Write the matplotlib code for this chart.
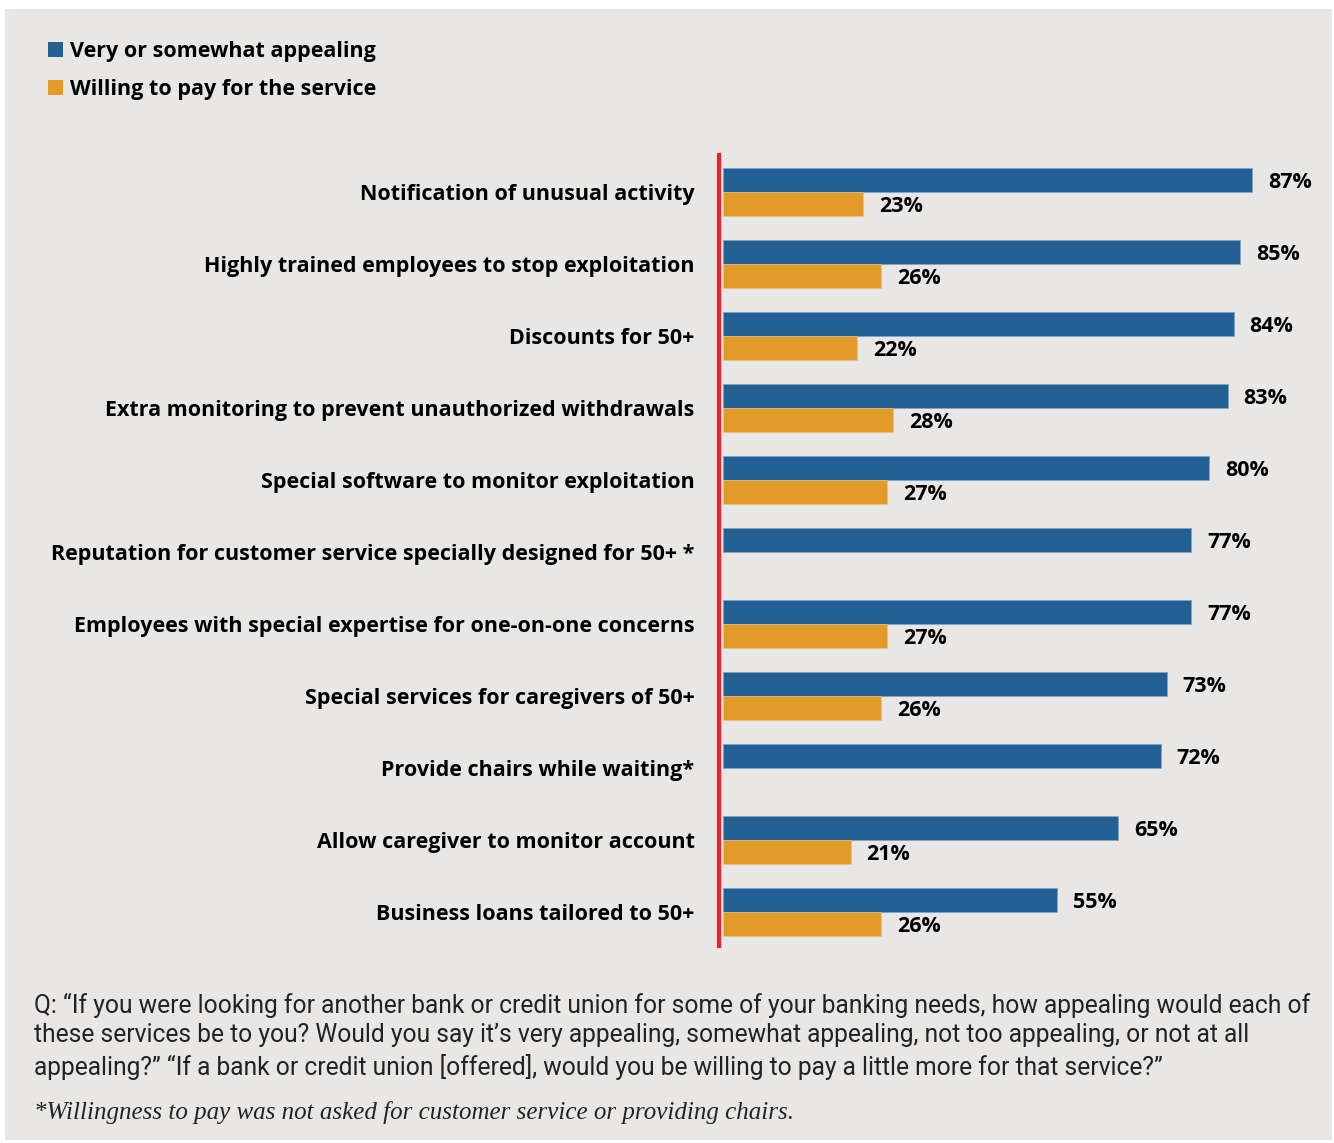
import matplotlib
matplotlib.use("Agg")
import matplotlib.pyplot as plt
from matplotlib.patches import Rectangle, Patch

categories = [
    "Notification of unusual activity",
    "Highly trained employees to stop exploitation",
    "Discounts for 50+",
    "Extra monitoring to prevent unauthorized withdrawals",
    "Special software to monitor exploitation",
    "Reputation for customer service specially designed for 50+ *",
    "Employees with special expertise for one-on-one concerns",
    "Special services for caregivers of 50+",
    "Provide chairs while waiting*",
    "Allow caregiver to monitor account",
    "Business loans tailored to 50+",
]
appealing = [87, 85, 84, 83, 80, 77, 77, 73, 72, 65, 55]
willing = [23, 26, 22, 28, 27, None, 27, 26, None, 21, 26]
series_names = ["Very or somewhat appealing", "Willing to pay for the service"]

BG = "#e8e7e5"
BLUE = "#236093"
ORANGE = "#e29a29"
RED = "#ec2128"
FONT = ["Open Sans", "DejaVu Sans"]
NARROW = ["Roboto", "DejaVu Sans"]
FS = 15.5

W, H = 1334, 1143
fig = plt.figure(figsize=(W / 100, H / 100), dpi=100, facecolor="white")
fig.patches.append(Rectangle((5 / W, 1 - 1140 / H), (1332 - 5) / W, (1140 - 9) / H,
                             transform=fig.transFigure, facecolor=BG, edgecolor="none", zorder=-10))

top_px, bot_px = 155, 946
ax = fig.add_axes([723 / W, 1 - bot_px / H, (1331 - 723) / W, (bot_px - top_px) / H])
ax.set_facecolor("none")
for s in ["top", "right", "bottom"]:
    ax.spines[s].set_visible(False)
ax.spines["left"].set_color(RED)
ax.spines["left"].set_linewidth(3)
ax.spines["left"].set_position(("outward", 3))
ax.set_xlim(0, 100)
ax.set_ylim((bot_px - 192) / 72, (top_px - 192) / 72)

h = 1 / 3
for i, (a, w) in enumerate(zip(appealing, willing)):
    ax.barh(i - h / 2, a, height=h, color=BLUE, edgecolor="#7fa3c4", linewidth=0.5)
    ax.annotate(f"{a}%", (a, i - h / 2), xytext=(11.5, -1.5), textcoords="offset points",
                ha="left", va="center", fontsize=FS, fontweight="bold", family=FONT)
    if w is not None:
        ax.barh(i + h / 2, w, height=h, color=ORANGE, edgecolor="#f0c080", linewidth=0.5)
        ax.annotate(f"{w}%", (w, i + h / 2), xytext=(11.5, -1.5), textcoords="offset points",
                    ha="left", va="center", fontsize=FS, fontweight="bold", family=FONT)

ax.set_xticks([])
ax.tick_params(axis="y", length=0, pad=17.5)
ax.set_yticks(range(len(categories)))
ax.set_yticklabels(categories, fontsize=FS, fontweight="bold", family=FONT)

handles = [Patch(facecolor=BLUE), Patch(facecolor=ORANGE)]
leg = fig.legend(handles, series_names, loc="upper left", bbox_to_anchor=(48 / W, 1 - 41 / H),
                 frameon=False, prop={"family": FONT, "weight": "bold", "size": FS},
                 handlelength=0.72, handleheight=0.72, handletextpad=0.3, labelspacing=0.78,
                 borderpad=0, borderaxespad=0)

q = ("Q: \u201cIf you were looking for another bank or credit union for some of your banking needs, how appealing would each of\n"
     "these services be to you? Would you say it\u2019s very appealing, somewhat appealing, not too appealing, or not at all\n"
     "appealing?\u201d \u201cIf a bank or credit union [offered], would you be willing to pay a little more for that service?\u201d")
fig.text(34 / W, 1 - 1036 / H, q, ha="left", va="center", fontsize=17.7, family=NARROW, linespacing=1.3, color="#222222")
fig.text(34 / W, 1 - 1113 / H, "*Willingness to pay was not asked for customer service or providing chairs.",
         ha="left", va="center", fontsize=18, family=["Liberation Serif", "DejaVu Serif"], style="italic", color="#222222")

fig.savefig("out.png", dpi=100, facecolor="white")
